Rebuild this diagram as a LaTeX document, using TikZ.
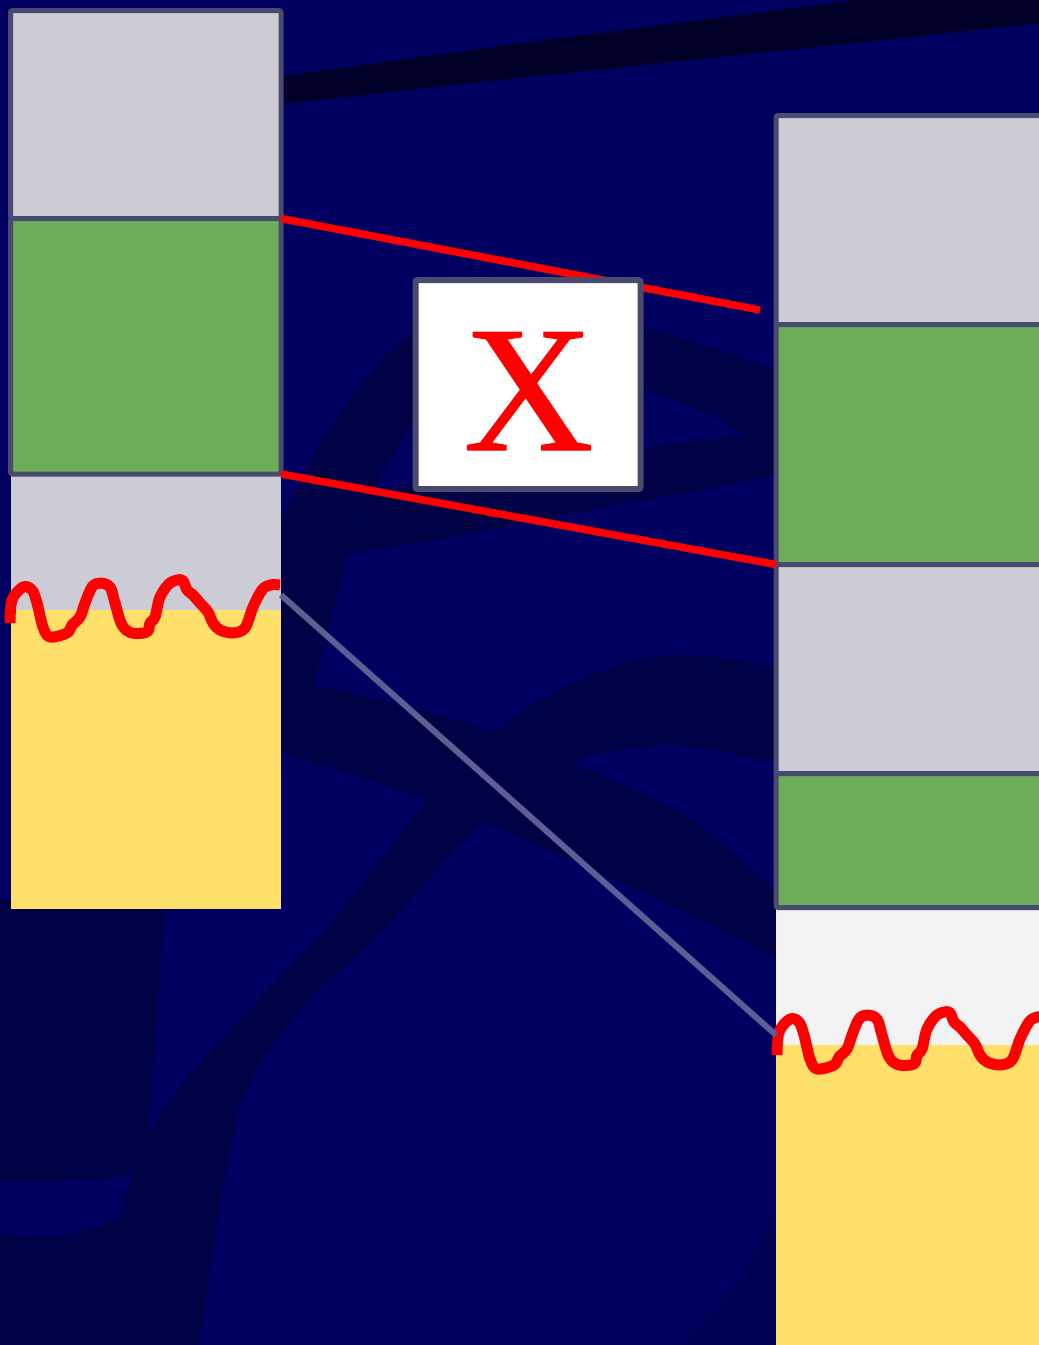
\documentclass[tikz,border=0pt]{standalone}
\usepackage{fontspec}
\setmainfont{Liberation Serif}
\newfontfamily\xfont[FakeBold=0.6]{Liberation Serif}
\definecolor{bgc}{RGB}{0,0,96}
\definecolor{dkc}{RGB}{0,0,68}
\definecolor{dkt}{RGB}{0,0,40}
\definecolor{dkl}{RGB}{0,0,68}
\definecolor{dkr}{RGB}{0,0,84}
\definecolor{bord}{RGB}{74,74,112}
\definecolor{lineblue}{RGB}{94,94,150}
\definecolor{gry}{RGB}{204,204,214}
\definecolor{grn}{RGB}{110,173,88}
\definecolor{yel}{RGB}{255,224,106}
\definecolor{lgr}{RGB}{242,242,242}
\tikzset{
  plain/.style={inner sep=0pt, outer sep=0pt, anchor=north west, draw=none},
  cell/.style={plain, draw=bord, line width=5pt, rounded corners=2pt},
  redline/.style={draw=red, line width=7.5pt},
  blueline/.style={draw=lineblue, line width=6pt},
  wavy/.style={draw=red, line width=11pt, line join=round},
  xframe/.style={plain, draw=bord, fill=white, line width=6pt, rounded corners=2pt},
  xtext/.style={inner sep=0pt, anchor=base, text=red, font=\xfont\fontsize{180}{180}\selectfont},
  wave/.pic={\draw[wavy] plot[smooth, tension=0.55] coordinates {(0,0) (2,-23) (13,-36) (22,-33) (27,-20) (33,4) (40,14) (57,10) (62,2) (70,-6) (75,-20) (82,-36) (90,-40) (100,-36) (105,-20) (112,2) (122,10) (137,9) (140,0) (145,-6) (150,-26) (160,-40) (172,-43) (177,-33) (183,-28) (190,-20) (198,-11) (203,0) (210,7) (223,10) (235,5) (243,-16) (252,-33) (260,-38) (270,-38)};}
}
\begin{document}
\begin{tikzpicture}[x=1pt, y=-1pt]
\useasboundingbox (0,0) rectangle (1039,1345);
\begin{scope}
\clip (0,0) rectangle (1039,1345);
% background
\fill[bgc] (0,0) rectangle (1039,1345);
% lower-left dark region
\fill[dkl] (0,900) -- (165,900) -- (149,1133) -- (80,1345) -- (0,1345) -- cycle;
\fill[bgc] plot[smooth] coordinates {(0,1182) (60,1181) (114,1177) (152,1168)} -- plot[smooth] coordinates {(145,1205) (100,1226) (50,1237) (0,1233)} -- cycle;
% faint lower right
\fill[dkr] plot[smooth] coordinates {(681,1345) (730,1290) (776,1213)} -- (776,1345) -- cycle;
% top band
\fill[dkt] plot[smooth] coordinates {(200,86) (282,76) (560,38) (858,0) (1039,-25)} -- plot[smooth] coordinates {(1039,24) (1005,27) (760,53) (500,80) (282,104) (200,112)} -- cycle;
% middle arc B
\fill[dkc] plot[smooth] coordinates {(260,560) (281,520) (320,445) (365,380) (411,333) (470,312) (530,310) (600,318) (643,328) (710,347) (790,375)} -- (790,445) -- plot[smooth] coordinates {(747,435) (700,410) (643,390) (560,378) (470,388) (414,423) (371,497) (348,553) (328,630) (310,700)} -- (260,700) -- cycle;
% band B2
\fill[dkc] plot[smooth] coordinates {(371,497) (420,482) (520,463) (643,448) (747,435) (790,432)} -- (790,474) -- plot[smooth] coordinates {(773,476) (600,508) (450,537) (348,553)} -- cycle;
% band C
\fill[dkc] plot[smooth] coordinates {(240,672) (281,677) (400,705) (494,732) (571,763) (681,813) (748,867) (790,905)} -- (790,965) -- plot[smooth] coordinates {(680,910) (571,860) (428,800) (281,753) (240,745)} -- cycle;
% arc D
\fill[dkc] plot[smooth] coordinates {(80,1345) (149,1133) (240,1020) (325,930) (428,800) (494,732) (560,690) (614,667) (664,655) (720,658) (790,672)} -- (790,766) -- plot[smooth] coordinates {(720,750) (664,745) (610,752) (571,763) (481,823) (383,930) (300,1010) (239,1110) (199,1345)} -- cycle;

% left column
\node[plain, fill=gry, minimum width=270pt, minimum height=136pt] (l3) at (11,474) {};
\node[plain, fill=yel, minimum width=270pt, minimum height=299pt] (l4) at (11,610) {};
\node[cell, fill=gry, minimum width=270.5pt, minimum height=208pt] (l1) at (10.5,10.5) {};
\node[cell, fill=grn, minimum width=270.5pt, minimum height=255.5pt] (l2) at (10.5,218.5) {};
% right column
\node[plain, fill=lgr, minimum width=280pt, minimum height=137pt] (r5) at (776,908) {};
\node[plain, fill=yel, minimum width=280pt, minimum height=310pt] (r6) at (776,1045) {};
\node[cell, fill=gry, minimum width=280pt, minimum height=209pt] (r1) at (776,115.5) {};
\node[cell, fill=grn, minimum width=280pt, minimum height=240pt] (r2) at (776,324.5) {};
\node[cell, fill=gry, minimum width=280pt, minimum height=209pt] (r3) at (776,564.5) {};
\node[cell, fill=grn, minimum width=280pt, minimum height=134pt] (r4) at (776,773.5) {};

% wavy cut lines
\pic at (10,623) {wave};
\pic at (777,1055) {wave};

% connectors
\coordinate (rEnd) at (760,310);
\coordinate (gA) at (281,595);
\coordinate (gB) at (776,1035);
\draw[redline] (l2.north east) -- (rEnd);
\draw[redline] (l2.south east) -- (r3.north west);
\draw[blueline] (gA) -- (gB);

% X box
\node[xframe, minimum width=225pt, minimum height=209pt] (xb) at (415.5,280) {};
\node[xtext] (xl) at (528.5,450) {X};
\end{scope}
\end{tikzpicture}
\end{document}
